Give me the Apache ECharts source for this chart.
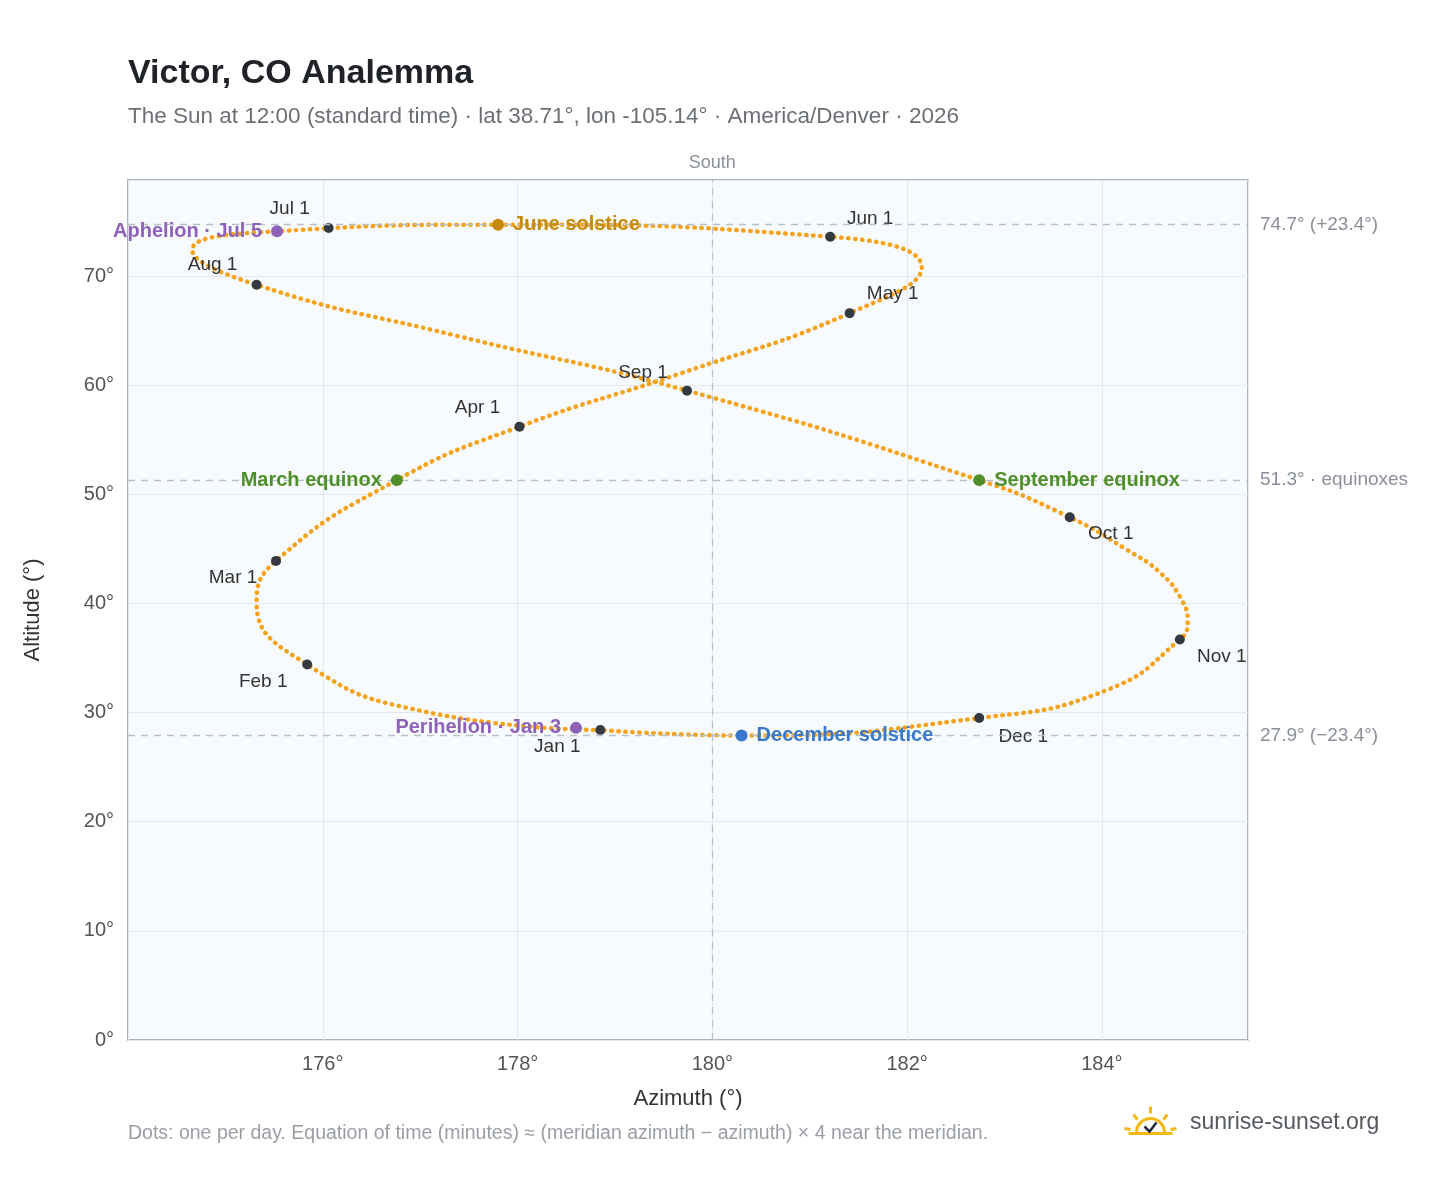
<!DOCTYPE html>
<html><head><meta charset="utf-8">
<script src="https://cdn.jsdelivr.net/npm/echarts@6/dist/echarts.min.js"></script>
<style>html,body{margin:0;background:#fff}#c{width:1448px;height:1188px}</style>
</head><body><div id="c"></div>
<script>
const font = "'Liberation Sans', Arial, sans-serif"

// analemma path (azimuth °, altitude °), in date order
const pathAz = [178.85, 177.04, 175.84, 175.32, 175.52, 176.76, 178.02, 179.68, 181.41, 182.15, 181.21, 177.80, 175.53, 174.66, 175.32, 177.34, 179.74, 182.74, 183.67, 184.26, 184.60, 184.82, 184.88, 184.80, 184.06, 182.74, 180.30, 178.85]
const pathAlt = [28.4, 30.1, 34.4, 40.1, 43.9, 51.3, 56.2, 61.1, 66.6, 70.8, 73.6, 74.7, 74.1, 72.4, 69.2, 64.6, 59.5, 51.3, 47.9, 44.9, 42.8, 40.3, 38.3, 36.7, 32.1, 29.5, 27.9, 28.4]

// first of each month
const months = ['Jan 1', 'Feb 1', 'Mar 1', 'Apr 1', 'May 1', 'Jun 1', 'Jul 1', 'Aug 1', 'Sep 1', 'Oct 1', 'Nov 1', 'Dec 1']
const monthAz = [178.85, 175.84, 175.52, 178.02, 181.41, 181.21, 176.06, 175.32, 179.74, 183.67, 184.80, 182.74]
const monthAlt = [28.4, 34.4, 43.9, 56.2, 66.6, 73.6, 74.4, 69.2, 59.5, 47.9, 36.7, 29.5]
const monthOffset = [[-43, 17], [-44, 17], [-43, 17], [-42, -19], [43, -19], [40, -18], [-39, -19], [-44, -20], [-44, -18], [41, 17], [42, 17], [44, 19]]

// special events
const events = ['June solstice', 'December solstice', 'March equinox', 'September equinox', 'Perihelion · Jan 3', 'Aphelion · Jul 5']
const eventAz = [177.80, 180.30, 176.76, 182.74, 178.60, 175.53]
const eventAlt = [74.7, 27.9, 51.3, 51.3, 28.6, 74.1]
const eventColor = ['#c58a0a', '#3a78c9', '#4f8f2a', '#4f8f2a', '#8e62b8', '#8e62b8']
const eventSide = ['right', 'right', 'left', 'right', 'left', 'left']

const refAlt = [74.7, 51.3, 27.9]
const refLabel = ['74.7° (+23.4°)', '51.3° · equinoxes', '27.9° (−23.4°)']

const chart = echarts.init(document.getElementById('c'))

const dash = { color: '#b8c0ca', type: [7, 6], width: 1.3 }

chart.setOption({
  animation: false,
  textStyle: { fontFamily: font },
  title: {
    text: 'Victor, CO Analemma',
    subtext: 'The Sun at 12:00 (standard time) · lat 38.71°, lon -105.14° · America/Denver · 2026',
    left: 123, top: 52,
    textStyle: { fontSize: 34, fontWeight: 'bold', color: '#1f2328', fontFamily: font },
    subtextStyle: { fontSize: 22.5, color: '#6b6f76', fontFamily: font },
    itemGap: 14,
  },
  grid: { left: 128, right: 200, top: 180, bottom: 148, show: true, backgroundColor: '#f8fbfd', borderColor: '#8e9aab', borderWidth: 1.5 },
  xAxis: {
    type: 'value', min: 174, max: 185.5, interval: 2,
    name: 'Azimuth (°)', nameLocation: 'middle', nameGap: 48,
    nameTextStyle: { fontSize: 22, color: '#333' },
    axisLine: { show: false }, axisTick: { show: false },
    axisLabel: { fontSize: 20, color: '#555', margin: 14, showMaxLabel: false, formatter: v => v === 174 ? '' : v + '°' },
    splitLine: { lineStyle: { color: '#e3e8ee' } },
  },
  yAxis: {
    type: 'value', min: 0, max: 78.8, interval: 10,
    name: 'Altitude (°)', nameLocation: 'middle', nameGap: 84,
    nameTextStyle: { fontSize: 22, color: '#333' },
    axisLine: { show: false }, axisTick: { show: false },
    axisLabel: { fontSize: 20, color: '#555', margin: 14, formatter: '{value}°', showMaxLabel: false },
    splitLine: { lineStyle: { color: '#e3e8ee' } },
  },
  series: [
    {
      type: 'line', smooth: 0.5, symbol: 'none', z: 2,
      data: pathAz.map((a, i) => [a, pathAlt[i]]),
      lineStyle: { color: '#f4a41c', width: 4.5, type: [0.5, 6.5], cap: 'round' },
      markLine: {
        silent: true, symbol: 'none',
        lineStyle: dash,
        data: [
          ...refAlt.map((v, i) => ({ yAxis: v, label: { formatter: refLabel[i], position: 'end', distance: 12, color: '#8a9099', fontSize: 19 } })),
          { xAxis: 180, label: { formatter: 'South', position: 'end', distance: 8, color: '#8a9099', fontSize: 18 } },
        ],
      },
    },
    {
      type: 'scatter', symbolSize: 10, z: 4,
      itemStyle: { color: '#353a42', opacity: 1 },
      data: monthAz.map((a, i) => ({
        value: [a, monthAlt[i]],
        label: { show: true, formatter: months[i], position: 'inside', offset: monthOffset[i], color: '#333', fontSize: 19 },
      })),
    },
    {
      type: 'scatter', symbolSize: 12, z: 5,
      data: eventAz.map((a, i) => ({
        value: [a, eventAlt[i]],
        itemStyle: { color: eventColor[i], opacity: 1 },
        label: { show: true, formatter: events[i], position: eventSide[i], distance: 9, color: eventColor[i], fontSize: 20, fontWeight: 'bold' },
      })),
    },
  ],
  graphic: [
    { type: 'text', left: 128, top: 1124, style: { text: 'Dots: one per day. Equation of time (minutes) ≈ (meridian azimuth − azimuth) × 4 near the meridian.', fill: '#9a9ea5', font: '19.5px ' + font } },
    { type: 'text', left: 1190, top: 1111, style: { text: 'sunrise-sunset.org', fill: '#555a61', font: '23px ' + font } },
    {
      type: 'group', left: 1122, top: 1104,
      children: [
        { type: 'arc', shape: { cx: 26, cy: 26, r: 14, startAngle: Math.PI, endAngle: 0 }, style: { stroke: '#f5b914', lineWidth: 3, fill: null } },
        { type: 'line', shape: { x1: 26, y1: 0, x2: 26, y2: 7 }, style: { stroke: '#f5b914', lineWidth: 3 } },
        { type: 'line', shape: { x1: 9, y1: 8, x2: 13, y2: 13 }, style: { stroke: '#f5b914', lineWidth: 3 } },
        { type: 'line', shape: { x1: 43, y1: 8, x2: 39, y2: 13 }, style: { stroke: '#f5b914', lineWidth: 3 } },
        { type: 'line', shape: { x1: 0, y1: 22, x2: 6, y2: 23 }, style: { stroke: '#f5b914', lineWidth: 3 } },
        { type: 'line', shape: { x1: 52, y1: 22, x2: 46, y2: 23 }, style: { stroke: '#f5b914', lineWidth: 3 } },
        { type: 'line', shape: { x1: 4, y1: 27, x2: 48, y2: 27 }, style: { stroke: '#f5b914', lineWidth: 3 } },
        { type: 'polyline', shape: { points: [[20, 20], [25, 25], [32, 16]] }, style: { stroke: '#1f2a36', lineWidth: 2.5, fill: null } },
      ],
    },
  ],
})
</script>
</body></html>
